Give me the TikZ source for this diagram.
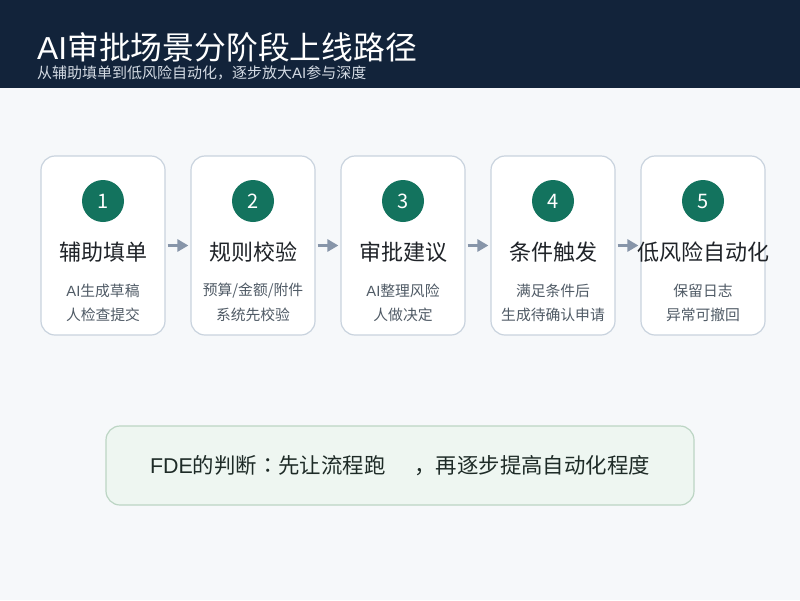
\documentclass[tikz,border=0pt]{standalone}
\usepackage{fontspec}
\setmainfont{Noto Sans CJK SC}
\newfontfamily\latfont{Liberation Sans}
\newfontfamily\jpfont{Noto Sans CJK JP}
\usetikzlibrary{arrows.meta,positioning}
\definecolor{headbg}{HTML}{12233A}
\definecolor{pagebg}{HTML}{F6F8FA}
\definecolor{subhead}{HTML}{D3DAE3}
\definecolor{cardline}{HTML}{C9D3DE}
\definecolor{badgegreen}{HTML}{13735E}
\definecolor{titleink}{HTML}{1F2328}
\definecolor{noteink}{HTML}{505B66}
\definecolor{arrowgray}{HTML}{8795A9}
\definecolor{verdictfill}{HTML}{EEF6F1}
\definecolor{verdictline}{HTML}{BCD5C4}
\definecolor{verdictink}{HTML}{1E2B27}
\tikzset{
  card/.style={draw=cardline, fill=white, line width=1.2pt, rounded corners=14pt,
    minimum width=124pt, minimum height=179pt, inner sep=0pt},
  badge/.style={circle, fill=badgegreen, minimum size=42pt, inner sep=0pt,
    text=white, font=\fontsize{20}{24}\selectfont},
  steptitle/.style={text=titleink, inner sep=0pt, font=\fontsize{22}{26}\selectfont},
  stepnote/.style={text=noteink, inner sep=0pt, font=\fontsize{14.8}{18}\selectfont},
  flow/.style={draw=arrowgray, line width=3pt, -{Triangle[length=11pt,width=12pt]}},
}

\begin{document}
\begin{tikzpicture}[x=1pt,y=-1pt]
\useasboundingbox (0,0) rectangle (800,600);
\fill[pagebg] (0,0) rectangle (800,600);
% header band
\fill[headbg] (0,0) rectangle (800,88);
\node[anchor=base west, inner sep=0pt, text=white, font=\fontsize{31.8}{36}\selectfont] (title) at (37,59) {{\latfont AI}审批场景分阶段上线路径};
\node[anchor=base west, inner sep=0pt, text=subhead, font=\fontsize{15}{18}\selectfont] (subtitle) at (37,78) {从辅助填单到低风险自动化，逐步放大{\latfont AI}参与深度};
% stage cards
\foreach \i/\name/\lineA/\lineB in {1/辅助填单/{{\latfont AI}生成草稿}/人检查提交,
    2/规则校验/{预算/金额/附件}/系统先校验,
    3/审批建议/{{\latfont AI}整理风险}/人做决定,
    4/条件触发/满足条件后/生成待确认申请,
    5/低风险自动化/保留日志/异常可撤回} {
  \node[card] (card\i) at ({103+150*(\i-1)},245.5) {};
  \node[badge] (num\i) at ({103+150*(\i-1)},201) {\i};
  \node[steptitle] (name\i) at ({103+150*(\i-1)},252) {\name};
  \node[stepnote] (noteA\i) at ({103+150*(\i-1)},290.5) {\lineA};
  \node[stepnote] (noteB\i) at ({103+150*(\i-1)},314.5) {\lineB};
}
\foreach \i [evaluate=\i as \j using int(\i+1)] in {1,...,4} {
  \draw[flow, shorten <=2pt, shorten >=2pt] (card\i) -- (card\j);
}
% verdict
\node[draw=verdictline, fill=verdictfill, line width=1.2pt, rounded corners=14pt,
  minimum width=588pt, minimum height=79pt] (verdict) at (400,465.5) {};
\node[inner sep=0pt, text=verdictink, font=\fontsize{21.4}{25}\selectfont] (verdicttext) at (400,466) {{\latfont FDE}的判断{\jpfont ：}先让流程跑\hspace{1.35em}，再逐步提高自动化程度};
\end{tikzpicture}
\end{document}
